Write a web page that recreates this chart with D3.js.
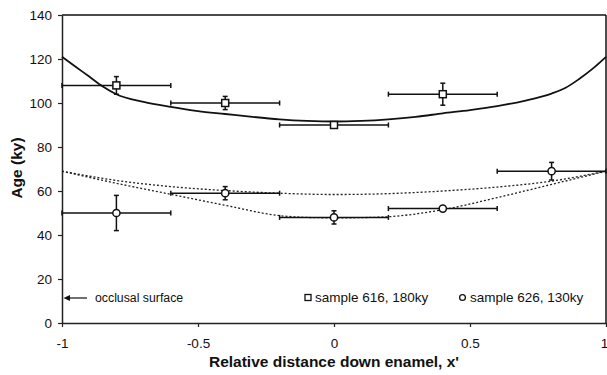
<!DOCTYPE html>
<html><head><meta charset="utf-8">
<script src="https://cdn.jsdelivr.net/npm/d3@7"></script>
<style>body{margin:0;background:#fff}svg{display:block;font-family:"Liberation Sans",Arial,sans-serif}</style>
</head><body><svg id="c" width="607" height="375"></svg>
<script>
// Data
const xTicks = [-1, -0.5, 0, 0.5, 1];
const yTicks = [0, 20, 40, 60, 80, 100, 120, 140];
// sample 616 (squares)
const s616X = [-0.8, -0.4, 0, 0.4];
const s616Y = [108, 100, 90, 104];
const s616Err = [4, 3, 1, 5];
const s616XErr = [0.2, 0.2, 0.2, 0.2];
// sample 626 (circles)
const s626X = [-0.8, -0.4, 0, 0.4, 0.8];
const s626Y = [50, 59, 48, 52, 69];
const s626Err = [8, 3, 3, 1, 4];
const s626XErr = [0.2, 0.2, 0.2, 0.2, 0.2];
// model curves
const solidX = [-1, -0.95, -0.9, -0.85, -0.8, -0.7, -0.6, -0.5, -0.4, -0.3, -0.2, -0.1, 0, 0.1, 0.2, 0.3, 0.4, 0.5, 0.6, 0.7, 0.8, 0.85, 0.9, 0.95, 1];
const solidY = [121, 116.5, 112, 107.5, 104, 100.5, 98.2, 96.3, 95, 93.7, 92.6, 91.9, 91.6, 91.9, 92.6, 93.7, 95.3, 96.8, 98.6, 101, 104.3, 106.8, 110.8, 115.5, 121];
const dotAX = [-1, -0.8, -0.6, -0.4, -0.2, 0, 0.2, 0.4, 0.6, 0.8, 1];
const dotAY = [69, 64.8, 62, 60.2, 59, 58.4, 58.8, 60, 61.8, 64.5, 69];
const dotBX = [-1, -0.8, -0.6, -0.4, -0.2, -0.1, 0, 0.1, 0.2, 0.4, 0.6, 0.8, 1];
const dotBY = [69, 63.5, 58.5, 53.5, 48.8, 48, 47.8, 47.9, 48.3, 51.5, 57, 63, 69];

const svg = d3.select("#c");
const L = 62, R = 606, T = 15, B = 323;
const x = d3.scaleLinear().domain([-1, 1]).range([L, R]);
const y = d3.scaleLinear().domain([0, 140]).range([B, T]);
const FONT = '"Liberation Sans",Arial,sans-serif';

// frame
svg.append("line").attr("x1", L).attr("x2", R).attr("y1", T).attr("y2", T).attr("stroke", "#111").attr("stroke-width", 1.5);
svg.append("line").attr("x1", R).attr("x2", R).attr("y1", T).attr("y2", B).attr("stroke", "#111").attr("stroke-width", 1.5);

const xAxis = svg.append("g").attr("transform", `translate(0,${B})`)
  .call(d3.axisBottom(x).tickValues(xTicks).tickFormat(d => String(d)).tickSize(4).tickSizeOuter(0));
const yAxis = svg.append("g").attr("transform", `translate(${L},0)`)
  .call(d3.axisLeft(y).tickValues(yTicks).tickFormat(d => String(d)).tickSize(4).tickSizeOuter(0));
[xAxis, yAxis].forEach(g => {
  g.select(".domain").attr("stroke", "#222").attr("stroke-width", 1.5);
  g.selectAll(".tick line").attr("stroke", "#222").attr("stroke-width", 1.2);
  g.selectAll("text").attr("font-size", 13.5).attr("fill", "#111").attr("font-family", FONT);
});
xAxis.selectAll("text").attr("y", 11).attr("dy", "1em");
xAxis.selectAll(".tick").filter(d => d === 1).select("text").attr("dx", -2);
yAxis.selectAll("text").attr("x", -10);

// titles
svg.append("text").attr("x", 334).attr("y", 367).attr("text-anchor", "middle")
  .attr("font-weight", "bold").attr("font-size", 15.5).attr("fill", "#111").text("Relative distance down enamel, x'");
svg.append("text").attr("transform", "translate(22,168) rotate(-90)").attr("text-anchor", "middle")
  .attr("font-weight", "bold").attr("font-size", 15.5).attr("fill", "#111").text("Age (ky)");

// curves
const line = d3.line().x(d => x(d[0])).y(d => y(d[1])).curve(d3.curveMonotoneX);
svg.append("path").attr("d", line(d3.zip(solidX, solidY))).attr("fill", "none").attr("stroke", "#111").attr("stroke-width", 1.8);
svg.append("path").attr("d", line(d3.zip(dotAX, dotAY))).attr("fill", "none").attr("stroke", "#222").attr("stroke-width", 1.3).attr("stroke-dasharray", "2,2");
svg.append("path").attr("d", line(d3.zip(dotBX, dotBY))).attr("fill", "none").attr("stroke", "#222").attr("stroke-width", 1.3).attr("stroke-dasharray", "2,2");

// error bars & markers
function drawSeries(xs, ys, es, xes, shape) {
  const g = svg.append("g").attr("stroke", "#111").attr("stroke-width", 1.5);
  xs.forEach((xv, i) => {
    const cx = x(xv), cy = y(ys[i]);
    const x0 = x(xv - xes[i]), x1 = x(xv + xes[i]);
    const y0 = y(ys[i] - es[i]), y1 = y(ys[i] + es[i]);
    g.append("line").attr("x1", x0).attr("x2", x1).attr("y1", cy).attr("y2", cy);
    g.append("line").attr("x1", x0).attr("x2", x0).attr("y1", cy - 2.5).attr("y2", cy + 2.5);
    g.append("line").attr("x1", x1).attr("x2", x1).attr("y1", cy - 2.5).attr("y2", cy + 2.5);
    g.append("line").attr("x1", cx).attr("x2", cx).attr("y1", y0).attr("y2", y1);
    g.append("line").attr("x1", cx - 2.5).attr("x2", cx + 2.5).attr("y1", y0).attr("y2", y0);
    g.append("line").attr("x1", cx - 2.5).attr("x2", cx + 2.5).attr("y1", y1).attr("y2", y1);
    if (shape === "square") {
      g.append("rect").attr("x", cx - 3.5).attr("y", cy - 3.5).attr("width", 7).attr("height", 7).attr("fill", "#fff");
    } else {
      g.append("circle").attr("cx", cx).attr("cy", cy).attr("r", 3.6).attr("fill", "#fff");
    }
  });
}
drawSeries(s616X, s616Y, s616Err, s616XErr, "square");
drawSeries(s626X, s626Y, s626Err, s626XErr, "circle");

// legend
const lg = svg.append("g").attr("font-size", 13.5).attr("fill", "#111");
lg.append("rect").attr("x", 305).attr("y", 294.5).attr("width", 6).attr("height", 6).attr("fill", "#fff").attr("stroke", "#111").attr("stroke-width", 1.3);
lg.append("text").attr("x", 315).attr("y", 302).text("sample 616, 180ky");
lg.append("circle").attr("cx", 462.5).attr("cy", 297.5).attr("r", 2.9).attr("fill", "#fff").attr("stroke", "#111").attr("stroke-width", 1.3);
lg.append("text").attr("x", 470).attr("y", 302).text("sample 626, 130ky");

// occlusal surface annotation
svg.append("line").attr("x1", 68).attr("x2", 87).attr("y1", 298).attr("y2", 298).attr("stroke", "#111").attr("stroke-width", 1.2);
svg.append("path").attr("d", "M63.5,298 L70,295 L70,301 Z").attr("fill", "#111");
svg.append("text").attr("x", 95).attr("y", 302).attr("font-size", 12.3).attr("fill", "#111").text("occlusal surface");
</script></body></html>
